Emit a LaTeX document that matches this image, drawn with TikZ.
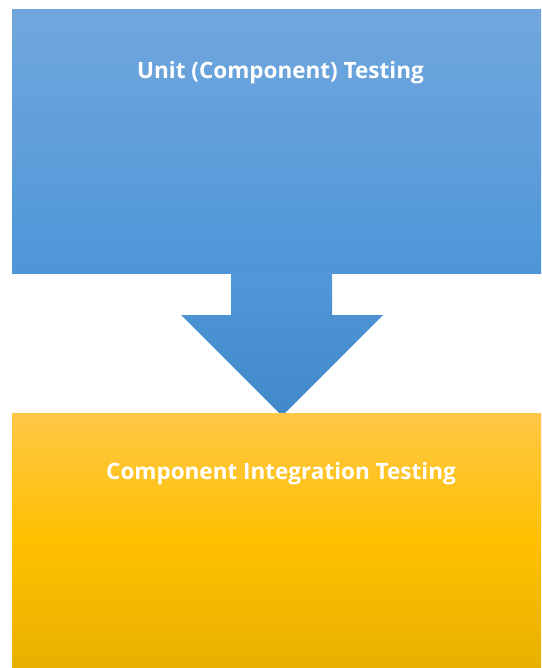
\documentclass[tikz,border=0pt]{standalone}
\usepackage{fontspec}
\setmainfont{Open Sans}
\definecolor{blueTop}{HTML}{71A7DD}
\definecolor{blueBot}{HTML}{4E96D8}
\definecolor{arrTop}{HTML}{5198D8}
\definecolor{arrBot}{HTML}{4388C9}
\definecolor{orTop}{HTML}{FFC746}
\definecolor{orMid}{HTML}{FFC000}
\definecolor{orBot}{HTML}{E8B000}
\tikzset{
  stagelabel/.style={text=white, font=\fontsize{22.5}{27}\selectfont\bfseries, anchor=center},
}
\begin{document}
\begin{tikzpicture}[x=1pt, y=-1pt]
  \useasboundingbox (0,0) rectangle (541,668);
  % upper stage box
  \shade[top color=blueTop, bottom color=blueBot] (12,10) rectangle (541,273);
  % downward block arrow
  \shade[top color=arrTop, bottom color=arrBot]
    (231,272) -- (332,272) -- (332,315) -- (383,315) -- (282,416) -- (181,315) -- (231,315) -- cycle;
  % lower stage box (middle colour set last so it is not overwritten)
  \shade[top color=orTop, bottom color=orBot, middle color=orMid] (12,413) rectangle (541,668);
  \node[stagelabel] (unit) at (280.5,73) {Unit (Component) Testing};
  \node[stagelabel] (integ) at (281,474) {Component Integration Testing};
\end{tikzpicture}
\end{document}
